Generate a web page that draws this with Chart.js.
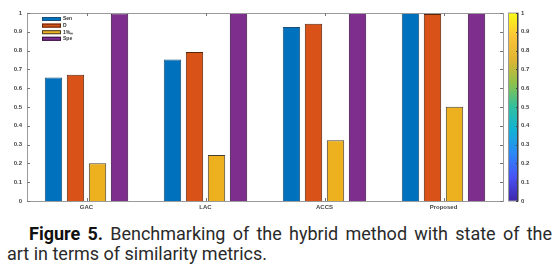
<!DOCTYPE html>
<html>
<head>
<meta charset="utf-8">
<script src="https://cdn.jsdelivr.net/npm/chart.js@4/dist/chart.umd.min.js"></script>
<style>
    body { margin: 0; background: #fff; width: 560px; height: 266px; overflow: hidden; position: relative; }
    #wrap { position: absolute; left: 0; top: 0; width: 560px; height: 214px; }
    .caption { position: absolute; left: 7px; top: 224px; width: 545px; font-family: Roboto, sans-serif; font-size: 18px; line-height: 20px; color: #2a2a2a; }
    .caption .l1 { display: block; margin-left: 22px; text-align: justify; text-align-last: justify; }
    .caption b { color: #111; font-weight: 700; }
</style>
</head>
<body>
<div id="wrap"><canvas id="benchChart" width="560" height="214"></canvas></div>
<div class="caption">
    <span class="l1"><b>Figure 5.</b> Benchmarking of the hybrid method with state of the</span>
    art in terms of similarity metrics.
</div>
<script>
// ============================================
// BENCHMARK CHART (similarity metrics)
// ============================================

const methods = ['GAC', 'LAC', 'ACCS', 'Proposed'];
const metricNames = ['Sen', 'D', '1%\u2098', 'Spe'];
const senValues = [0.657, 0.752, 0.925, 1.0];
const diceValues = [0.672, 0.793, 0.943, 0.995];
const hmValues = [0.201, 0.245, 0.323, 0.501];
const speValues = [0.997, 1.0, 1.0, 1.0];
const yTicks = [0, 0.1, 0.2, 0.3, 0.4, 0.5, 0.6, 0.7, 0.8, 0.9, 1];

const barColors = ['#0072BD', '#D95319', '#EDB120', '#7E2F8E'];
const edgeColors = ['#1b4f78', '#5a2409', '#4a4030', '#3a1242'];

const parulaStops = [
    [0, '#3e26a8'], [0.125, '#4852f4'], [0.25, '#2d87f7'], [0.375, '#12b1d6'],
    [0.5, '#2fc0a0'], [0.625, '#8cc24a'], [0.75, '#e0b532'], [0.875, '#fcc537'], [1, '#f9fb15']
];

const tinyFont = { family: 'Liberation Sans, Arial, sans-serif', size: 6, weight: 'bold' };
const fmt = v => (Math.round(v * 10) / 10).toString();

// box, inner tick marks, legend and colorbar
const matlabLook = {
    id: 'matlabLook',
    afterDatasetsDraw(chart) {
        const { ctx, chartArea: a, scales } = chart;
        ctx.save();
        ctx.strokeStyle = '#9a9a9a';
        ctx.lineWidth = 1;
        ctx.strokeRect(a.left + 0.5, a.top + 0.5, a.right - a.left, a.bottom - a.top);

        ctx.strokeStyle = '#777';
        ctx.beginPath();
        yTicks.forEach(v => {
            const y = Math.round(scales.y.getPixelForValue(v)) + 0.5;
            ctx.moveTo(a.left, y); ctx.lineTo(a.left + 3, y);
            ctx.moveTo(a.right, y); ctx.lineTo(a.right - 3, y);
        });
        methods.forEach((m, i) => {
            const x = Math.round(scales.x.getPixelForValue(i)) + 0.5;
            ctx.moveTo(x, a.top); ctx.lineTo(x, a.top + 3);
            ctx.moveTo(x, a.bottom); ctx.lineTo(x, a.bottom - 3);
        });
        ctx.stroke();

        // legend
        ctx.font = 'bold 5px Liberation Sans, Arial, sans-serif';
        ctx.textBaseline = 'middle';
        chart.data.datasets.forEach((ds, i) => {
            const y = a.top + 6 + i * 6.6;
            ctx.fillStyle = ds.backgroundColor;
            ctx.fillRect(a.left + 15, y - 2, 19, 4);
            ctx.strokeStyle = ds.borderColor;
            ctx.strokeRect(a.left + 15.5, y - 1.5, 18, 3);
            ctx.fillStyle = '#333';
            ctx.fillText(ds.label, a.left + 36, y);
        });

        // colorbar
        const cb = scales.cbar;
        const x0 = a.right + 6, w = 9;
        const top = cb.getPixelForValue(1), bot = cb.getPixelForValue(0);
        const grad = ctx.createLinearGradient(0, bot, 0, top);
        parulaStops.forEach(s => grad.addColorStop(s[0], s[1]));
        ctx.fillStyle = grad;
        ctx.fillRect(x0, top, w, bot - top);
        ctx.strokeStyle = '#9a9a9a';
        ctx.strokeRect(x0 - 0.5, top, w + 1, bot - top);
        ctx.strokeStyle = '#444';
        ctx.beginPath();
        ctx.moveTo(x0 + w - 0.5, top); ctx.lineTo(x0 + w - 0.5, bot);
        yTicks.forEach(v => {
            const y = Math.round(cb.getPixelForValue(v)) + 0.5;
            ctx.moveTo(x0 + w, y); ctx.lineTo(x0 + w - 2, y);
        });
        ctx.stroke();
        ctx.font = 'bold 6px Liberation Sans, Arial, sans-serif';
        ctx.fillStyle = '#444';
        ctx.textAlign = 'left';
        cb.ticks.forEach(t => ctx.fillText(fmt(t.value), x0 + w + 3, cb.getPixelForValue(t.value)));
        ctx.restore();
    }
};

const ctx = document.getElementById('benchChart').getContext('2d');
const benchChart = new Chart(ctx, {
    type: 'bar',
    data: {
        labels: methods,
        datasets: [senValues, diceValues, hmValues, speValues].map((vals, i) => ({
            label: metricNames[i],
            data: vals,
            backgroundColor: barColors[i],
            borderColor: edgeColors[i],
            borderWidth: 1,
            categoryPercentage: 0.74,
            barPercentage: 0.79
        }))
    },
    options: {
        responsive: false,
        animation: false,
        layout: { padding: { top: 13, left: 0, right: 0, bottom: 0 } },
        plugins: { legend: { display: false }, tooltip: { enabled: false } },
        scales: {
            x: {
                grid: { display: false, drawTicks: false },
                border: { display: false },
                ticks: { font: tinyFont, color: '#444', padding: 3 },
                afterFit: s => { s.height = 13; }
            },
            y: {
                min: 0, max: 1,
                grid: { display: false, drawTicks: false },
                border: { display: false },
                ticks: { stepSize: 0.1, font: tinyFont, color: '#444', padding: 5, callback: fmt },
                afterFit: s => { s.width = 27; }
            },
            cbar: {
                position: 'right',
                min: 0, max: 1,
                grid: { display: false, drawTicks: false },
                border: { display: false },
                ticks: { display: false, stepSize: 0.1 },
                afterFit: s => { s.width = 57; }
            }
        }
    },
    plugins: [matlabLook]
});
</script>
</body>
</html>
